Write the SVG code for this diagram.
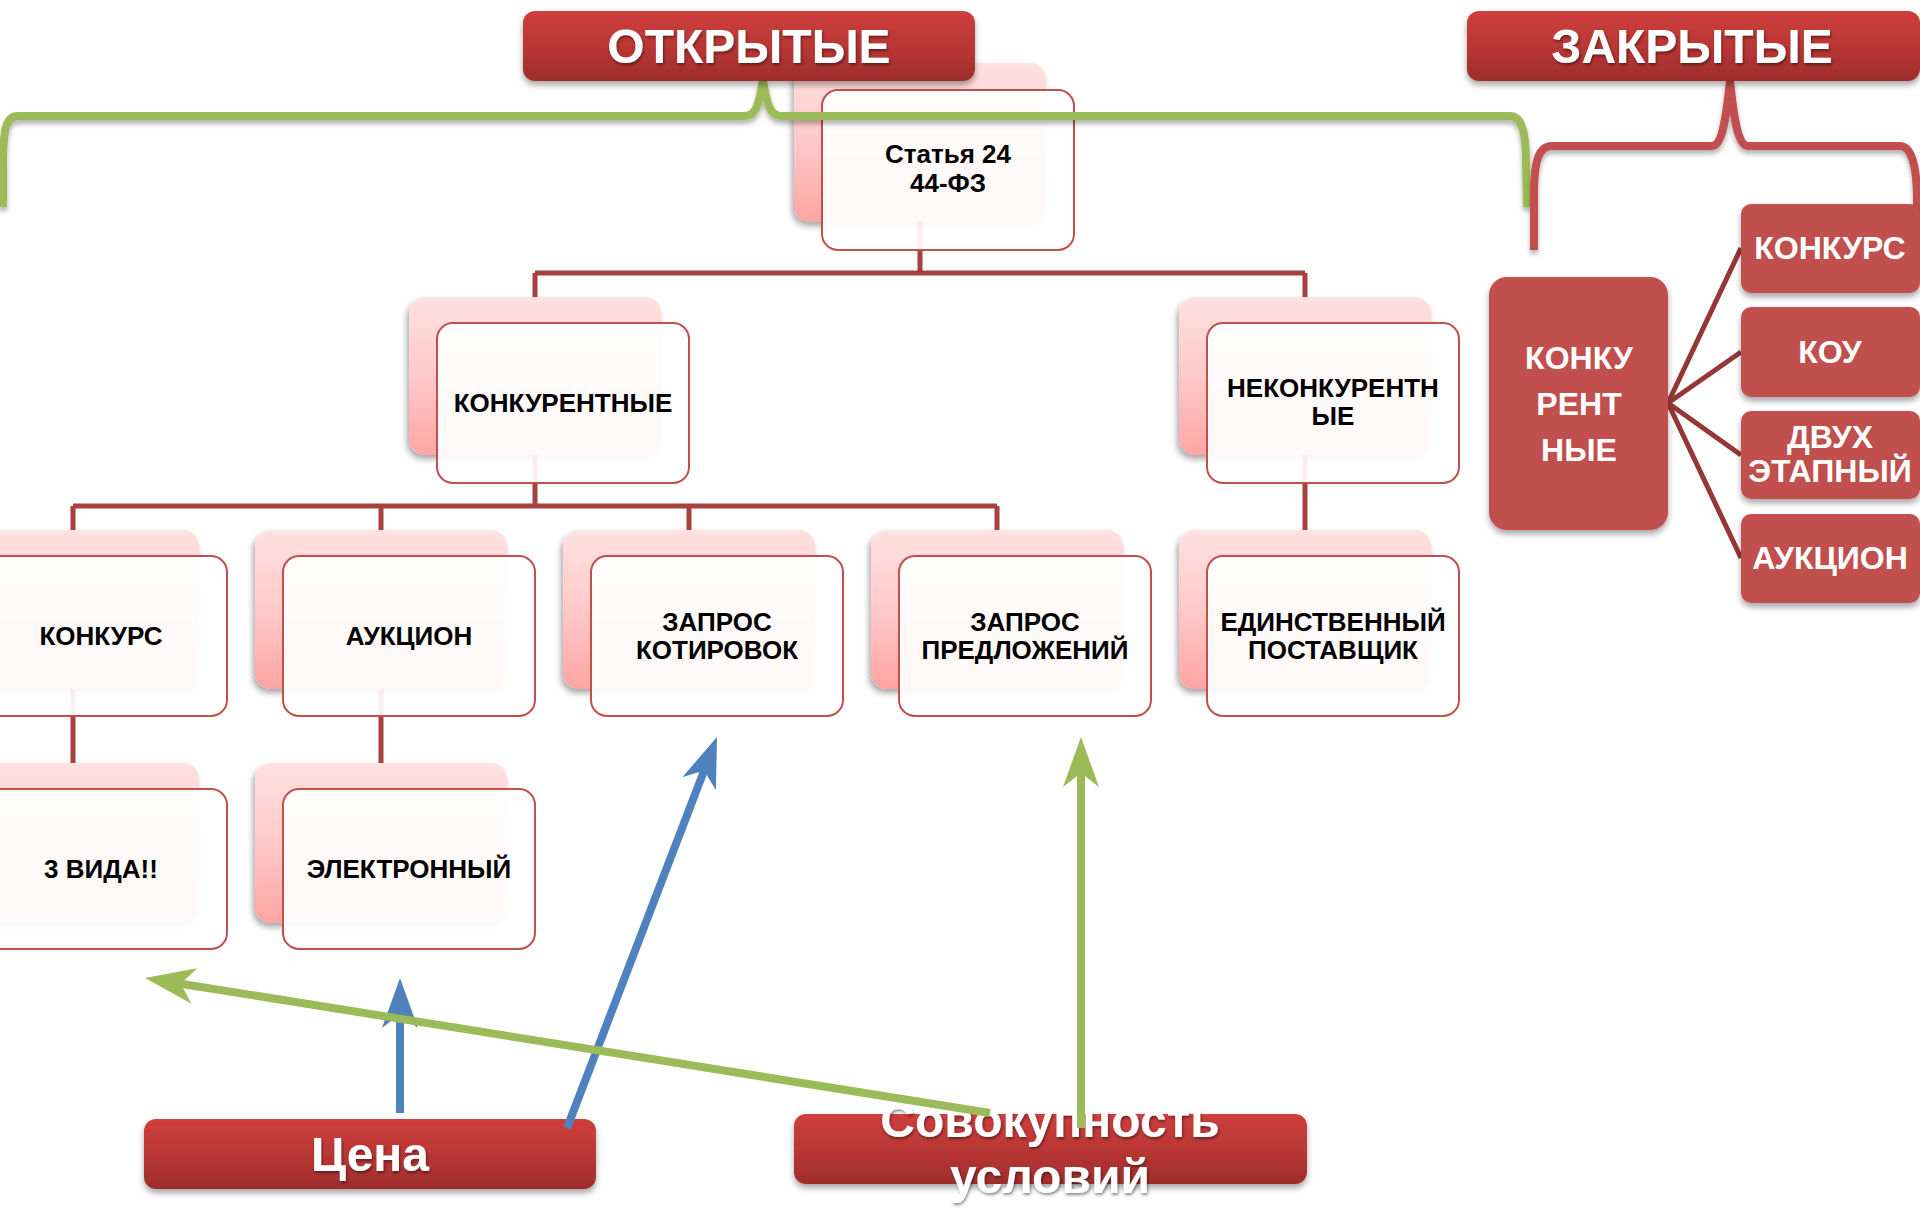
<svg xmlns="http://www.w3.org/2000/svg" width="1920" height="1208" viewBox="0 0 1920 1208">
<defs>
  <linearGradient id="gBack" x1="0" y1="0" x2="0" y2="1">
    <stop offset="0" stop-color="#ffe1e1"/>
    <stop offset="0.5" stop-color="#ffc9c8"/>
    <stop offset="1" stop-color="#fea5a3"/>
  </linearGradient>
  <linearGradient id="gHead" x1="0" y1="0" x2="0" y2="1">
    <stop offset="0" stop-color="#ce3f3c"/>
    <stop offset="0.5" stop-color="#ba3735"/>
    <stop offset="1" stop-color="#9e2c2c"/>
  </linearGradient>
  <filter id="shB" x="-10%" y="-10%" width="130%" height="130%">
    <feDropShadow dx="-2" dy="4" stdDeviation="3" flood-color="#000" flood-opacity="0.35"/>
  </filter>
  <filter id="shH" x="-10%" y="-20%" width="120%" height="150%">
    <feDropShadow dx="0" dy="4" stdDeviation="3" flood-color="#000" flood-opacity="0.35"/>
  </filter>
  <filter id="shL" x="-5%" y="-5%" width="110%" height="110%">
    <feDropShadow dx="0" dy="4" stdDeviation="2.5" flood-color="#000" flood-opacity="0.3"/>
  </filter>
  <filter id="shT" x="-10%" y="-20%" width="120%" height="150%">
    <feDropShadow dx="1" dy="2" stdDeviation="1.5" flood-color="#000" flood-opacity="0.45"/>
  </filter>
  <marker id="mBlue" viewBox="-50 -18 50 36" markerWidth="50" markerHeight="36" refX="-36" refY="0" markerUnits="userSpaceOnUse" orient="auto">
    <path d="M0,0 L-50,-18 L-36,0 L-50,18 Z" fill="#4f81bd"/>
  </marker>
  <marker id="mGreen" viewBox="-50 -18 50 36" markerWidth="50" markerHeight="36" refX="-36" refY="0" markerUnits="userSpaceOnUse" orient="auto">
    <path d="M0,0 L-50,-18 L-36,0 L-50,18 Z" fill="#9bbb59"/>
  </marker>
</defs>
<style>
  .back { fill: url(#gBack); filter: url(#shB); }
  .front { fill: #ffffff; fill-opacity: 0.92; stroke: #c0504d; stroke-width: 2; }
  .t { font-family: "Liberation Sans", Arial, sans-serif; font-weight: bold; font-size: 26px; fill: #000; text-anchor: middle; }
  .head { fill: url(#gHead); filter: url(#shH); }
  .ht { font-family: "Liberation Sans", Arial, sans-serif; font-weight: bold; font-size: 48px; fill: #fff; text-anchor: middle; filter: url(#shT); }
  .cbox { fill: #c0504d; filter: url(#shH); }
  .ct { font-family: "Liberation Sans", Arial, sans-serif; font-weight: bold; font-size: 32px; fill: #fff; text-anchor: middle; }
  .conn { fill: none; stroke: #a8403e; stroke-width: 5; }
  .spoke { fill: none; stroke: #953735; stroke-width: 5; }
  .brace { fill: none; stroke-width: 8; stroke-linecap: butt; filter: url(#shL); }
  .arrB { fill: none; stroke: #4f81bd; stroke-width: 8; }
  .arrG { fill: none; stroke: #9bbb59; stroke-width: 8; }
</style>

<g id="connectors">
  <path class="conn" d="M920 222 V273 M535 273 H1305 M535 273 V297 M1305 273 V297"/>
  <path class="conn" d="M535 455 V506 M73 506 H997 M73 506 V530 M381 506 V530 M689 506 V530 M997 506 V530"/>
  <path class="conn" d="M1305 455 V530"/>
  <path class="conn" d="M73 689 V763 M381 689 V763"/>
</g>

<g id="node-statya">
  <rect class="back" x="794" y="63" width="252" height="159" rx="16"/>
  <rect class="front" x="822" y="90" width="252" height="160" rx="16"/>
  <text class="t" x="948" y="163" font-size="24">Статья 24</text>
  <text class="t" x="948" y="192" font-size="24">44-ФЗ</text>
</g>
<g id="node-konkurentnye">
  <rect class="back" x="409" y="297" width="252" height="158" rx="16"/>
  <rect class="front" x="437" y="323" width="252" height="160" rx="16"/>
  <text class="t" x="563" y="412">КОНКУРЕНТНЫЕ</text>
</g>
<g id="node-nekonkurentnye">
  <rect class="back" x="1179" y="297" width="252" height="158" rx="16"/>
  <rect class="front" x="1207" y="323" width="252" height="160" rx="16"/>
  <text class="t" x="1333" y="397">НЕКОНКУРЕНТН</text>
  <text class="t" x="1333" y="425">ЫЕ</text>
</g>
<g id="node-konkurs">
  <rect class="back" x="-53" y="530" width="252" height="159" rx="16"/>
  <rect class="front" x="-25" y="556" width="252" height="160" rx="16"/>
  <text class="t" x="101" y="645">КОНКУРС</text>
</g>
<g id="node-auktsion">
  <rect class="back" x="255" y="530" width="252" height="159" rx="16"/>
  <rect class="front" x="283" y="556" width="252" height="160" rx="16"/>
  <text class="t" x="409" y="645">АУКЦИОН</text>
</g>
<g id="node-zapros-kotirovok">
  <rect class="back" x="563" y="530" width="252" height="159" rx="16"/>
  <rect class="front" x="591" y="556" width="252" height="160" rx="16"/>
  <text class="t" x="717" y="631">ЗАПРОС</text>
  <text class="t" x="717" y="659">КОТИРОВОК</text>
</g>
<g id="node-zapros-predlozheniy">
  <rect class="back" x="871" y="530" width="252" height="159" rx="16"/>
  <rect class="front" x="899" y="556" width="252" height="160" rx="16"/>
  <text class="t" x="1025" y="631">ЗАПРОС</text>
  <text class="t" x="1025" y="659">ПРЕДЛОЖЕНИЙ</text>
</g>
<g id="node-edinstvenny">
  <rect class="back" x="1179" y="530" width="252" height="159" rx="16"/>
  <rect class="front" x="1207" y="556" width="252" height="160" rx="16"/>
  <text class="t" x="1333" y="631">ЕДИНСТВЕННЫЙ</text>
  <text class="t" x="1333" y="659">ПОСТАВЩИК</text>
</g>
<g id="node-3vida">
  <rect class="back" x="-53" y="763" width="252" height="160" rx="16"/>
  <rect class="front" x="-25" y="789" width="252" height="160" rx="16"/>
  <text class="t" x="101" y="878">3 ВИДА!!</text>
</g>
<g id="node-elektronny">
  <rect class="back" x="255" y="763" width="252" height="160" rx="16"/>
  <rect class="front" x="283" y="789" width="252" height="160" rx="16"/>
  <text class="t" x="409" y="878">ЭЛЕКТРОННЫЙ</text>
</g>

<g id="braces">
  <path class="brace" stroke="#9bbb59" d="M3 207 L3 165 C3 126 7 116 18 116 L745 116 C756 116 759 104 763 81 C767 104 770 116 781 116 L1510 116 C1521 116 1526 130 1526 162 L1527 207"/>
  <path class="brace" stroke="#c0504d" d="M1534 250 L1534 195 C1534 160 1539 146 1552 146 L1712 146 C1722 146 1726 120 1730 81 C1734 120 1738 146 1748 146 L1900 146 C1911 146 1917 165 1917 200 L1917 250"/>
</g>

<g id="node-otkrytye">
  <rect class="head" x="523" y="11" width="452" height="70" rx="12"/>
  <text class="ht" x="749" y="63">ОТКРЫТЫЕ</text>
</g>
<g id="node-zakrytye">
  <rect class="head" x="1467" y="11" width="453" height="70" rx="12"/>
  <text class="ht" x="1692" y="63">ЗАКРЫТЫЕ</text>
</g>

<g id="spokes">
  <path class="spoke" d="M1668 403 L1741 248 M1668 403 L1741 352 M1668 403 L1741 455 M1668 403 L1741 558"/>
</g>
<g id="node-closed-konkurentnye">
  <rect class="cbox" x="1489" y="277" width="179" height="253" rx="18"/>
  <text class="ct" x="1579" y="369">КОНКУ</text>
  <text class="ct" x="1579" y="415">РЕНТ</text>
  <text class="ct" x="1579" y="461">НЫЕ</text>
</g>
<g id="node-closed-konkurs">
  <rect class="cbox" x="1741" y="204" width="179" height="89" rx="10"/>
  <text class="ct" x="1830" y="259">КОНКУРС</text>
</g>
<g id="node-closed-kou">
  <rect class="cbox" x="1741" y="307" width="179" height="90" rx="10"/>
  <text class="ct" x="1830" y="363">КОУ</text>
</g>
<g id="node-closed-dvuh">
  <rect class="cbox" x="1741" y="411" width="179" height="88" rx="10"/>
  <text class="ct" x="1830" y="448">ДВУХ</text>
  <text class="ct" x="1830" y="482">ЭТАПНЫЙ</text>
</g>
<g id="node-closed-auktsion">
  <rect class="cbox" x="1741" y="514" width="179" height="89" rx="10"/>
  <text class="ct" x="1830" y="569">АУКЦИОН</text>
</g>

<g id="node-tsena">
  <rect class="head" x="144" y="1119" width="452" height="70" rx="12"/>
  <text class="ht" x="370" y="1171">Цена</text>
</g>
<g id="node-sovokupnost">
  <rect class="head" x="794" y="1114" width="513" height="70" rx="12"/>
  <text class="ht" x="1050" y="1137">Совокупность</text>
  <text class="ht" x="1050" y="1193">условий</text>
</g>

<g id="arrows">
  <path class="arrB" marker-end="url(#mBlue)" d="M400 1113 L400 1014"/>
  <path class="arrB" marker-end="url(#mBlue)" d="M567 1128 L704.1 770.6"/>
  <path class="arrG" marker-end="url(#mGreen)" d="M990 1113 L180.6 983.7"/>
  <path class="arrG" marker-end="url(#mGreen)" d="M1081 1128 L1081 773"/>
</g>
</svg>
